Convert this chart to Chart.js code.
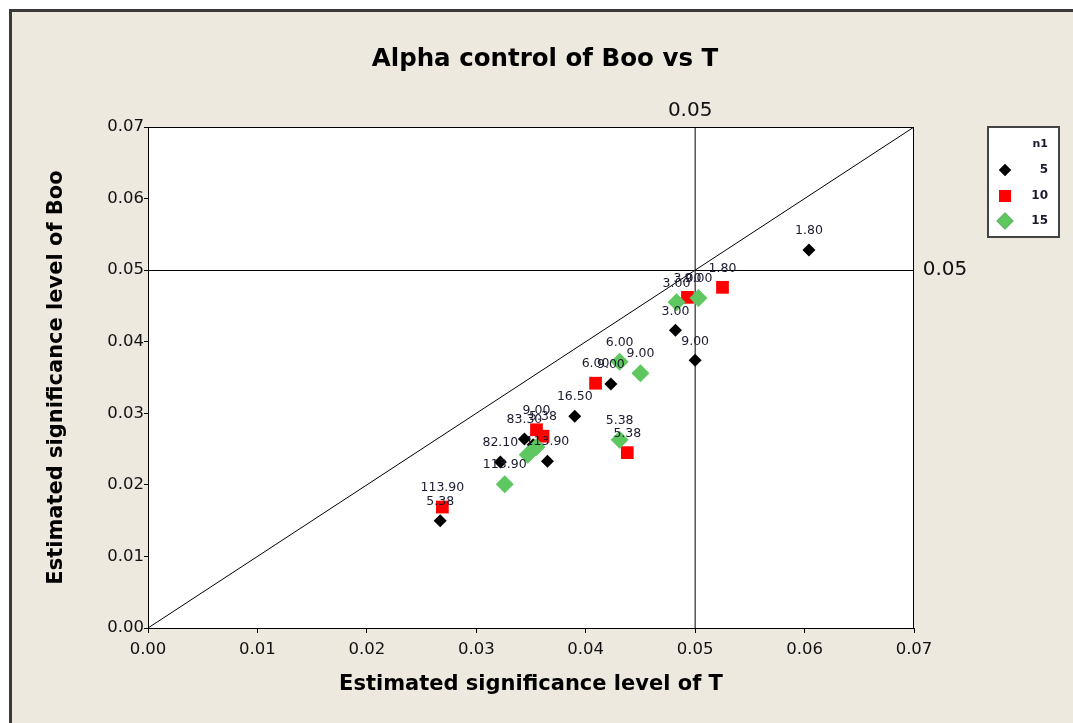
<!DOCTYPE html>
<html>
<head>
<meta charset="utf-8">
<script src="https://cdn.jsdelivr.net/npm/chart.js@4"></script>
<style>
  html, body { margin: 0; padding: 0; background: #ffffff; }
  #panel {
    position: absolute; left: 9px; top: 9px; width: 1064px; height: 714px;
    background: #EEE9DF; border-left: 3px solid #3a3a3a; border-top: 3px solid #3a3a3a;
    box-sizing: border-box;
  }
  #wrap { position: absolute; left: 0; top: 0; width: 1073px; height: 723px; }
</style>
</head>
<body>
<div id="panel"></div>
<div id="wrap"><canvas id="c" width="1073" height="723"></canvas></div>
<script>
// Estimated significance levels: x = test T, y = test Boo, grouped by n1
const n1Groups = ["5", "10", "15"];

const t5   = [0.0604, 0.0482, 0.0500, 0.0423, 0.0390, 0.0322, 0.0365, 0.0267, 0.0344, 0.0352];
const boo5 = [0.0528, 0.0416, 0.0374, 0.0341, 0.0296, 0.0232, 0.0233, 0.0150, 0.0264, 0.0256];
const lab5 = ["1.80", "3.00", "9.00", "9.00", "16.50", "82.10", "113.90", "5.38", "83.30", ""];

const t10   = [0.0525, 0.0493, 0.0409, 0.0438, 0.0269, 0.0355, 0.0361];
const boo10 = [0.0476, 0.0462, 0.0342, 0.0245, 0.0169, 0.0277, 0.0268];
const lab10 = ["1.80", "3.00", "6.00", "5.38", "113.90", "9.00", "5.38"];

const t15   = [0.0483, 0.0503, 0.0431, 0.0450, 0.0431, 0.0326, 0.0347, 0.0355];
const boo15 = [0.0455, 0.0461, 0.0372, 0.0356, 0.0263, 0.0201, 0.0242, 0.0253];
const lab15 = ["3.00", "9.00", "6.00", "9.00", "5.38", "113.90", "", ""];

// Axis range, tick step and the nominal 0.05 reference level
const axisRange = [0, 0.07];
const tickStep = 0.01;
const nominal = [0.05];

const toPts = (xs, ys) => xs.map((x, i) => ({ x: x, y: ys[i] }));

const groupColors = ["#000000", "#FF0000", "#5FC75F"];
const groupShapes = ["rectRot", "rect", "rectRot"];
const groupRadius = [6.5, 9, 9];
const groupLabels = [lab5, lab10, lab15];

const tickFont = { family: "DejaVu Sans", size: 16.5 };
const axisTitleFont = { family: "DejaVu Sans", size: 21, weight: "bold" };

const decor = {
  id: "decor",
  beforeDraw(chart) {
    const { ctx, chartArea: a } = chart;
    ctx.save();
    ctx.fillStyle = "#ffffff";
    ctx.fillRect(a.left, a.top, a.right - a.left, a.bottom - a.top);
    ctx.restore();
  },
  afterDatasetsDraw(chart) {
    const { ctx, chartArea: a, scales } = chart;
    const xs = scales.x, ys = scales.y;
    ctx.save();
    // plot frame
    ctx.strokeStyle = "#000";
    ctx.lineWidth = 1;
    ctx.strokeRect(a.left + 0.5, a.top + 0.5, a.right - a.left - 1, a.bottom - a.top);

    // horizontal reference line across the plot
    ctx.beginPath();
    const yRef = Math.round(ys.getPixelForValue(nominal[0])) + 0.5;
    ctx.moveTo(a.left, yRef);
    ctx.lineTo(a.right, yRef);
    ctx.stroke();

    // point labels
    ctx.font = "12.5px 'DejaVu Sans'";
    ctx.fillStyle = "#1b1b30";
    ctx.textAlign = "center";
    ctx.textBaseline = "middle";
    [[t5, boo5], [t10, boo10], [t15, boo15]].forEach((g, gi) => {
      g[0].forEach((xv, i) => {
        const txt = groupLabels[gi][i];
        if (!txt) return;
        ctx.fillText(txt, xs.getPixelForValue(xv), ys.getPixelForValue(g[1][i]) - 19);
      });
    });

    // reference level labels
    ctx.font = "20px 'DejaVu Sans'";
    ctx.fillStyle = "#111";
    ctx.fillText(nominal[0].toFixed(2), xs.getPixelForValue(nominal[0]) - 5, a.top - 16);
    ctx.fillText(nominal[0].toFixed(2), a.right + 31, ys.getPixelForValue(nominal[0]));

    // chart title
    ctx.font = "bold 24.5px 'DejaVu Sans'";
    ctx.fillStyle = "#000";
    ctx.fillText("Alpha control of Boo vs T", 545, 60);

    // legend box
    const lx = 988, ly = 127, lw = 71, lh = 110;
    ctx.fillStyle = "#ffffff";
    ctx.fillRect(lx, ly, lw, lh);
    ctx.strokeStyle = "#444";
    ctx.lineWidth = 2;
    ctx.strokeRect(lx, ly, lw, lh);
    ctx.fillStyle = "#1b1b30";
    ctx.textAlign = "right";
    ctx.font = "bold 11px 'DejaVu Sans'";
    ctx.fillText("n1", 1048, 144);
    ctx.font = "bold 12px 'DejaVu Sans'";
    const legendY = [170, 196, 221];
    const legendR = [6, 8.5, 8.5];
    n1Groups.forEach((name, i) => {
      Chart.helpers.drawPoint(ctx, {
        pointStyle: groupShapes[i], radius: legendR[i], rotation: 0, borderWidth: 0
      }, 1005, legendY[i]);
      ctx.fillStyle = groupColors[i];
      ctx.fill();
      ctx.fillStyle = "#1b1b30";
      ctx.fillText(name, 1048, legendY[i]);
    });
    ctx.restore();
  }
};

const lineStyle = {
  type: "line", showLine: true, borderColor: "#000", borderWidth: 1,
  pointRadius: 0, fill: false, order: 10
};

new Chart(document.getElementById("c"), {
  type: "scatter",
  data: {
    datasets: [
      { label: n1Groups[0], data: toPts(t5, boo5), order: 3 },
      { label: n1Groups[1], data: toPts(t10, boo10), order: 2 },
      { label: n1Groups[2], data: toPts(t15, boo15), order: 1 },
      Object.assign({ data: [{ x: axisRange[0], y: axisRange[0] }, { x: axisRange[1], y: axisRange[1] }] }, lineStyle),
      Object.assign({ data: [{ x: nominal[0], y: axisRange[0] }, { x: nominal[0], y: axisRange[1] }] }, lineStyle)
    ].map((d, i) => i < 3 ? Object.assign(d, {
      pointStyle: groupShapes[i], pointRadius: groupRadius[i], pointHoverRadius: groupRadius[i],
      backgroundColor: groupColors[i], borderColor: groupColors[i], borderWidth: 0
    }) : d)
  },
  options: {
    responsive: false,
    animation: false,
    layout: { padding: { left: 12, top: 127, right: 159, bottom: 0 } },
    plugins: { legend: { display: false }, tooltip: { enabled: false }, title: { display: false } },
    scales: {
      x: {
        type: "linear", min: axisRange[0], max: axisRange[1],
        afterFit: s => { s.height = 95; },
        ticks: { stepSize: tickStep, callback: v => v.toFixed(2), font: tickFont, color: "#111", padding: 7, maxRotation: 0 },
        grid: { drawOnChartArea: false, tickLength: 5, color: "#000" },
        border: { color: "#000" },
        title: { display: true, text: "Estimated significance level of T", font: axisTitleFont, color: "#000", padding: { top: 0, bottom: 26 } }
      },
      y: {
        type: "linear", min: axisRange[0], max: axisRange[1],
        afterFit: s => { s.width = 136; },
        ticks: { stepSize: tickStep, callback: v => v.toFixed(2), font: tickFont, color: "#111", padding: 0 },
        grid: { drawOnChartArea: false, tickLength: 4, color: "#000" },
        border: { color: "#000" },
        title: { display: true, text: "Estimated significance level of Boo", font: axisTitleFont, color: "#000", padding: { top: 32, bottom: 0 } }
      }
    }
  },
  plugins: [decor]
});
</script>
</body>
</html>
